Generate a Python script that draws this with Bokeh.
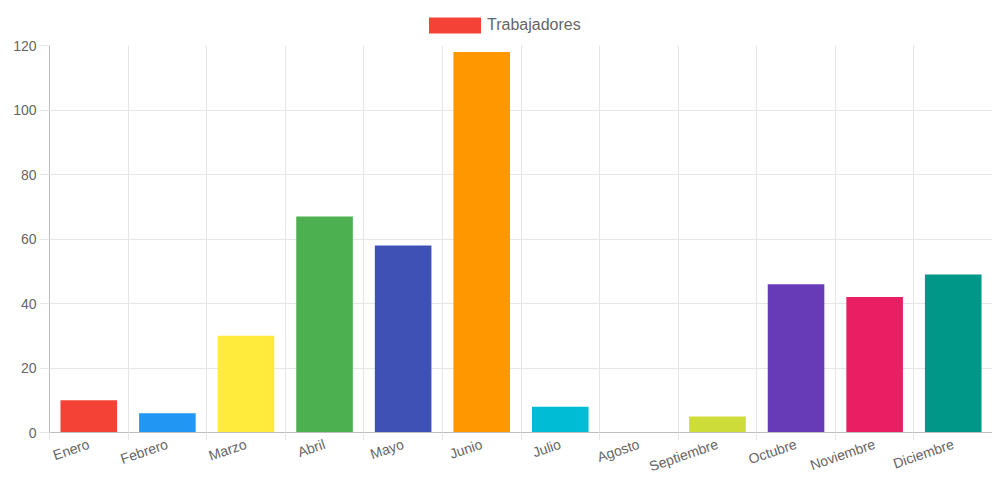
import numpy as np
from bokeh.plotting import figure
from bokeh.layouts import column
from bokeh.models import ColumnDataSource, FixedTicker, Range1d, Legend, LegendItem
from bokeh.embed import file_html
from bokeh.resources import INLINE

meses = ["Enero", "Febrero", "Marzo", "Abril", "Mayo", "Junio", "Julio",
         "Agosto", "Septiembre", "Octubre", "Noviembre", "Diciembre"]
trabajadores = [10, 6, 30, 67, 58, 118, 8, 0, 5, 46, 42, 49]
colores = ["#F44336", "#2196F3", "#FFEB3B", "#4CAF50", "#3F51B5", "#FF9800",
           "#00BCD4", "#FFC107", "#CDDC39", "#673AB7", "#E91E63", "#009688"]
serie = "Trabajadores"
y_ticks = [0, 20, 40, 60, 80, 100, 120]

n = len(meses)
centers = [i + 0.5 for i in range(n)]
bounds = list(range(n + 1))

src = ColumnDataSource(dict(x=centers, top=trabajadores, color=colores))

FONT = "Liberation Sans"
GRAY = "#666666"
GRID = "#e6e6e6"
W = 992
TOP_H = 37

# ---- legend strip (above the chart) ----
lg = figure(width=W, height=TOP_H, output_backend="svg", toolbar_location=None,
            x_range=Range1d(0, 1), y_range=Range1d(0, 1),
            min_border=0, min_border_left=0, min_border_right=0, min_border_top=0, min_border_bottom=0)
lg.axis.visible = False
lg.grid.visible = False
lg.outline_line_color = None
dummy = lg.vbar(x=[0], top=[0], width=0, fill_color=colores[0], line_color=None)
legend = Legend(items=[LegendItem(label=serie, renderers=[dummy])], orientation="horizontal",
                location=(373, 2), glyph_width=65, glyph_height=20, label_standoff=0,
                label_text_font=FONT, label_text_font_size="16px", label_text_color=GRAY,
                border_line_color=None, background_fill_alpha=0, padding=0, margin=0, spacing=0)
lg.add_layout(legend, "center")

# ---- main chart ----
p = figure(frame_width=943, frame_height=387, output_backend="svg", toolbar_location=None,
           x_range=Range1d(0, n), y_range=Range1d(0, 120),
           min_border_left=49, min_border_right=0, min_border_top=8, min_border_bottom=40)
p.outline_line_color = None

p.vbar(x="x", top="top", width=0.72, source=src, fill_color="color", line_color=None)

# x axis
p.xaxis.ticker = FixedTicker(ticks=centers, minor_ticks=bounds)
p.xaxis.major_label_overrides = {c: m for c, m in zip(centers, meses)}
p.xaxis.major_tick_line_color = None
p.xaxis.major_tick_out = 0
p.xaxis.minor_tick_out = 8
p.xaxis.minor_tick_in = 0
p.xaxis.minor_tick_line_color = GRID
p.xaxis.axis_line_color = "#bdbdbd"
p.xaxis.major_label_orientation = 0.33
p.xaxis.major_label_text_font = FONT
p.xaxis.major_label_text_font_size = "14px"
p.xaxis.major_label_text_color = GRAY
p.xaxis.major_label_standoff = 3
p.xgrid.ticker = FixedTicker(ticks=bounds)
p.xgrid.grid_line_color = GRID

# y axis
p.yaxis.ticker = FixedTicker(ticks=y_ticks)
p.yaxis.major_tick_out = 10
p.yaxis.major_tick_in = 0
p.yaxis.major_tick_line_color = GRID
p.yaxis.minor_tick_line_color = None
p.yaxis.axis_line_color = "#bdbdbd"
p.yaxis.major_label_text_font = FONT
p.yaxis.major_label_text_font_size = "14px"
p.yaxis.major_label_text_color = GRAY
p.yaxis.major_label_standoff = 3
p.ygrid.ticker = FixedTicker(ticks=y_ticks)
p.ygrid.grid_line_color = GRID

layout = column(lg, p, spacing=0)
open("out.html", "w").write(file_html(layout, INLINE))
